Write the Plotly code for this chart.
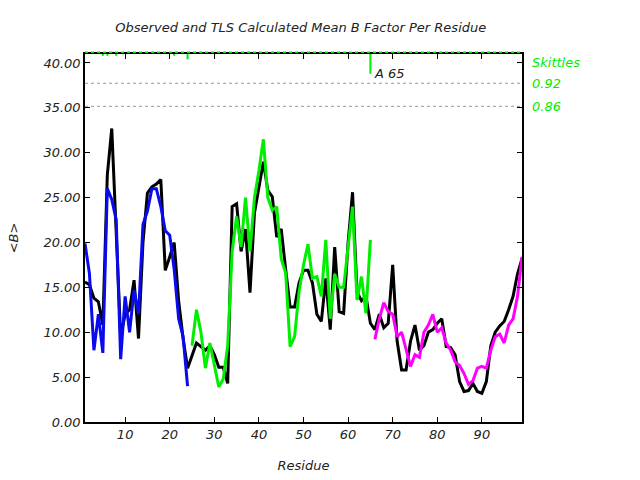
import plotly.graph_objects as go

# ---- data ----
residues = list(range(1, 100))
observed = [15.6, 15.3, 13.8, 13.4, 10.8, 27.5, 32.7, 22.0, 9.5, 12.0,
            12.5, 15.8, 9.3, 20.0, 25.5, 26.2, 26.5, 27.0, 16.9, 18.4,
            20.0, 13.5, 9.3, 6.0, 7.5, 8.8, 8.4, 8.0, 8.5, 7.5,
            6.1, 6.1, 4.3, 24.0, 24.3, 19.0, 21.5, 14.4, 23.3, 26.2,
            29.0, 25.8, 25.1, 20.6, 21.5, 17.0, 12.8, 12.8, 15.5, 16.9,
            16.9, 15.5, 12.0, 11.2, 16.0, 10.3, 19.5, 12.3, 12.1, 20.0,
            25.6, 14.5, 13.5, 14.0, 11.0, 10.3, 12.0, 10.5, 11.0, 17.5,
            9.0, 5.8, 5.8, 9.0, 10.8, 8.0, 8.5, 10.0, 10.3, 11.0,
            11.5, 8.4, 8.3, 7.5, 4.5, 3.4, 3.5, 4.3, 3.4, 3.2,
            4.5, 8.5, 10.0, 10.7, 11.2, 12.5, 14.0, 16.5, 18.2]

tls1_res = list(range(1, 25))
tls1 = [19.9, 16.5, 8.0, 12.0, 7.7, 26.0, 24.8, 22.5, 7.0, 14.0,
        10.0, 14.7, 12.0, 22.0, 23.5, 26.0, 26.0, 24.0, 21.3, 20.8,
        17.0, 11.5, 9.5, 4.0]

tls2_res = list(range(25, 66))
tls2 = [8.5, 12.5, 10.0, 6.0, 8.8, 6.5, 3.9, 4.8, 8.5, 19.0,
        22.9, 19.5, 25.0, 19.0, 25.0, 28.0, 31.5, 25.0, 23.6, 24.0,
        18.2, 16.6, 8.4, 9.5, 14.5, 17.5, 19.8, 16.0, 16.2, 14.0,
        20.3, 11.5, 16.5, 15.0, 15.0, 19.5, 24.0, 13.6, 16.2, 12.1,
        20.3]

tls3_res = list(range(66, 100))
tls3 = [9.2, 11.5, 13.3, 12.3, 12.0, 9.5, 10.0, 8.0, 6.2, 7.5,
        7.2, 10.0, 10.8, 12.0, 10.0, 10.5, 8.8, 8.0, 6.7, 6.3,
        5.4, 4.2, 4.6, 6.0, 6.2, 6.0, 8.0, 9.5, 9.8, 8.8,
        10.8, 11.5, 14.0, 18.4]

skittle_res = [5, 6, 8, 21, 24, 65]
skittle_val = [40.8, 40.8, 40.8, 40.8, 40.4, 38.8]
skittle_top = 41.0

ref_levels = [37.74, 35.17]
ref_labels = ["0.92", "0.86"]

y_ticks = [0, 5, 10, 15, 20, 25, 30, 35, 40]
x_ticks = [10, 20, 30, 40, 50, 60, 70, 80, 90]

GREEN = "#00ee00"
FONT = "DejaVu Sans"

fig = go.Figure()

fig.add_trace(go.Scatter(x=residues, y=observed, mode="lines",
                         line=dict(color="black", width=3), showlegend=False))
fig.add_trace(go.Scatter(x=tls1_res, y=tls1, mode="lines",
                         line=dict(color="#0a0aee", width=3), showlegend=False))
fig.add_trace(go.Scatter(x=tls2_res, y=tls2, mode="lines",
                         line=dict(color=GREEN, width=3), showlegend=False))
fig.add_trace(go.Scatter(x=tls3_res, y=tls3, mode="lines",
                         line=dict(color="#ff00ff", width=3), showlegend=False))

# skittle ticks hanging from the top
sx, sy = [], []
for r, v in zip(skittle_res, skittle_val):
    sx += [r, r, None]
    sy += [skittle_top, v, None]
fig.add_trace(go.Scatter(x=sx, y=sy, mode="lines",
                         line=dict(color=GREEN, width=2), showlegend=False,
                         cliponaxis=False))

shapes = []
for lv in ref_levels:
    shapes.append(dict(type="line", xref="paper", x0=0, x1=1, yref="y", y0=lv, y1=lv,
                       line=dict(color="#999999", width=1, dash="dot")))
shapes.append(dict(type="line", xref="paper", x0=0, x1=1, yref="paper", y0=1.005, y1=1.005,
                   line=dict(color=GREEN, width=1.5, dash="dot")))

annotations = [
    dict(text="Skittles", xref="paper", x=1, xanchor="left", xshift=8,
         yref="y", y=40.1, showarrow=False,
         font=dict(family=FONT, size=13, color=GREEN, style="italic")),
    dict(text="A 65", xref="x", x=skittle_res[-1], xanchor="left", xshift=2,
         yref="y", y=skittle_val[-1], showarrow=False,
         font=dict(family=FONT, size=13, color="#222222", style="italic")),
]
for lv, lab in zip(ref_levels, ref_labels):
    annotations.append(dict(text=lab, xref="paper", x=1, xanchor="left", xshift=8,
                            yref="y", y=lv, showarrow=False,
                            font=dict(family=FONT, size=13, color=GREEN, style="italic")))

fig.update_layout(
    width=640, height=480,
    margin=dict(l=85, r=118, t=54, b=58),
    paper_bgcolor="white", plot_bgcolor="white",
    font=dict(family=FONT, size=13, color="#222222", style="italic"),
    title=dict(text="Observed and TLS Calculated Mean B Factor Per Residue",
               x=0.47, xanchor="center", y=0.943, yanchor="middle",
               font=dict(family=FONT, size=13, color="#222222", style="italic")),
    shapes=shapes, annotations=annotations,
    xaxis=dict(range=[1, 99], tickvals=x_ticks, ticktext=[str(t) for t in x_ticks],
               ticks="inside", ticklen=5, tickcolor="black",
               showline=True, linecolor="black", linewidth=1.5, mirror="ticks",
               showgrid=False, zeroline=False, automargin=False,
               title=dict(text="Residue", standoff=20,
                          font=dict(family=FONT, size=13, style="italic"))),
    yaxis=dict(range=[0, 41], tickvals=y_ticks, ticktext=[f"{t:.2f}" for t in y_ticks],
               ticks="inside", ticklen=5, tickcolor="black",
               showline=True, linecolor="black", linewidth=1.5, mirror="ticks",
               showgrid=False, zeroline=False, automargin=False,
               title=dict(text="&lt;B&gt;", standoff=22,
                          font=dict(family=FONT, size=13, style="italic"))),
)

fig.write_html("out.html")
